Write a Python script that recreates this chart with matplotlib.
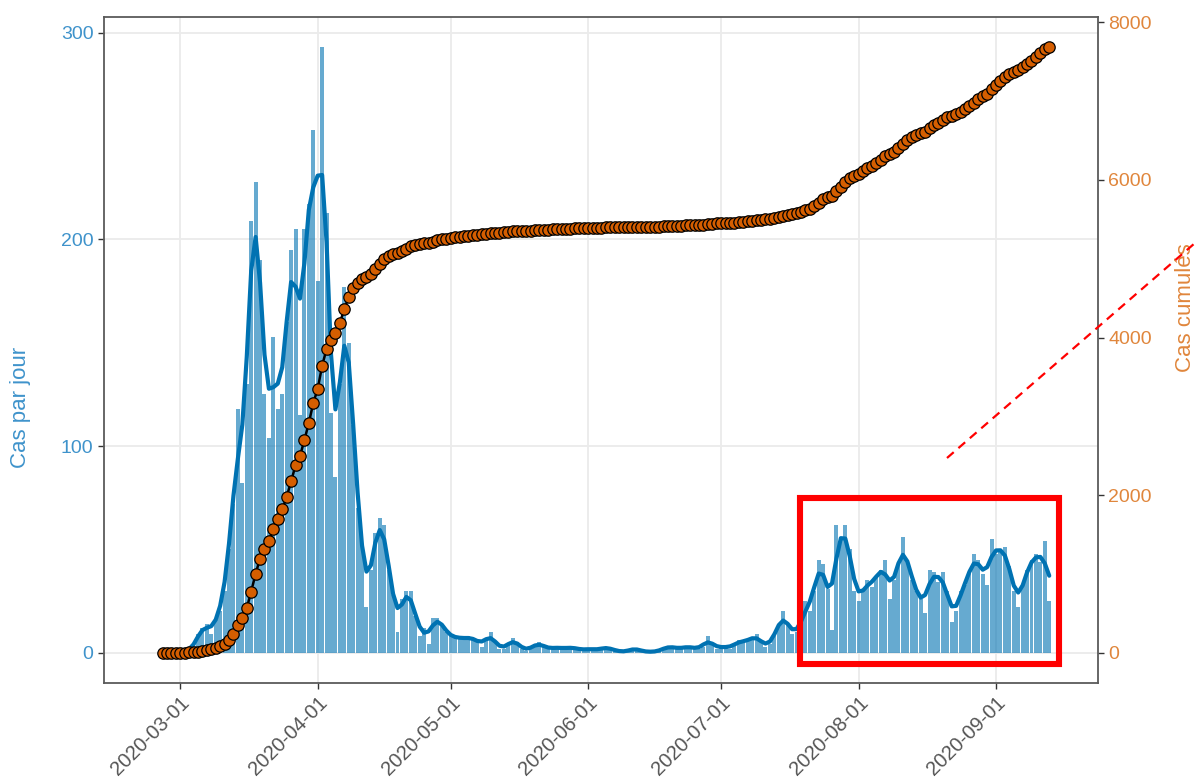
import numpy as np
import pandas as pd
import matplotlib
matplotlib.use("Agg")
import matplotlib.pyplot as plt
from matplotlib.patches import Rectangle
from matplotlib.lines import Line2D

# ---------------- data ----------------
start_date = "2020-02-26"
feb = [0, 0, 0, 0]
mar = [1, 1, 1, 2, 9, 12, 14, 9, 16, 20, 30, 50, 72,
       118, 82, 130, 209, 228, 190, 125, 104,
       153, 118, 125, 160, 195, 205, 115, 205, 217, 253]
apr = [180, 293, 213, 116, 85, 130, 177, 150, 110, 70,
       52, 22, 40, 58, 65, 62,
       40, 28, 10, 26, 30, 30, 18, 8, 12, 4, 17, 17, 14, 10]
may = [8, 7, 8, 6, 8, 7, 6, 3, 7, 10, 5, 2, 2, 4, 7, 5, 2, 1, 2, 4, 5,
       3, 2, 2, 3, 2, 2, 3, 2, 2, 1]
jun = [2, 2, 1, 2, 3, 2, 1, 1, 0, 1, 2, 2, 1, 0, 1, 0, 1, 2, 3, 3, 2,
       2, 3, 3, 2, 2, 3, 8, 4, 2]
jul = [3, 3, 2, 4, 6, 5, 6, 7, 9, 5, 3, 4, 8, 14, 20, 14, 9, 10, 12, 25,
       20, 30, 45, 43, 31, 11, 62, 55, 62, 50, 30]
aug = [25, 30, 35, 32, 37, 40, 45, 26, 35, 43, 56, 45, 35, 30, 26, 19,
       40, 39, 34, 39, 30, 15, 20, 30, 33, 38, 48, 45, 38, 33, 55]
sep = [48, 50, 51, 42, 30, 22, 33, 40, 45, 48, 44, 54, 25]

x_tick_labels = ["2020-03-01", "2020-04-01", "2020-05-01", "2020-06-01",
                 "2020-07-01", "2020-08-01", "2020-09-01"]
left_ticks = [0, 100, 200, 300]
right_ticks = [0, 2000, 4000, 6000, 8000]
left_title = "Cas par jour"
right_title = "Cas cumulés"

# ---------------- derived series ----------------
daily = np.array(feb + mar + apr + may + jun + jul + aug + sep, dtype=float)
dates = pd.date_range(start_date, periods=len(daily), freq="D")
cumul = np.cumsum(daily)
kernel = np.array([1, 4, 6, 4, 1], dtype=float)
smooth = (np.convolve(daily, kernel, mode="same") /
          np.convolve(np.ones_like(daily), kernel, mode="same"))

# ---------------- styling ----------------
plt.rcParams["font.family"] = ["Liberation Sans", "DejaVu Sans"]
BLUE = "#0072B2"
LEFT_TXT = "#3f93cb"
RIGHT_TXT = "#e0863c"
DOT = "#D55E00"
GRID = "#ebebeb"
BORDER = "#5a5a5a"

W, H = 1195, 784
fig = plt.figure(figsize=(W / 100, H / 100), dpi=100)
fig.patch.set_facecolor("white")
px0, px1, py0, py1 = 104, 1098, 17, 683
ax = fig.add_axes([px0 / W, 1 - py1 / H, (px1 - px0) / W, (py1 - py0) / H])

ax.bar(dates, daily, width=0.9, color=BLUE, alpha=0.6, linewidth=0, zorder=2)
ax.plot(dates, smooth, color=BLUE, lw=3.0, zorder=3,
        solid_joinstyle="round", solid_capstyle="round")

ymax = daily.max()
ax.set_ylim(-0.05 * ymax, 1.05 * ymax)
ax.set_yticks(left_ticks)
ax.set_yticklabels([str(t) for t in left_ticks])

base = pd.Timestamp("2020-03-01")
ax.set_xlim(base - pd.Timedelta(days=17.2), base + pd.Timedelta(days=207.0))
tick_dates = pd.to_datetime(x_tick_labels)
ax.set_xticks(tick_dates)
ax.set_xticklabels(x_tick_labels, rotation=45, ha="right",
                   rotation_mode="anchor")

ax.set_axisbelow(True)
ax.grid(True, color=GRID, lw=1.3, zorder=0)
ax.tick_params(axis="x", colors="#333333", labelcolor="#555555",
               labelsize=14.5, length=4.5, width=1, pad=3)
ax.tick_params(axis="y", colors="#333333", labelcolor=LEFT_TXT,
               labelsize=14, length=4.5, width=1, pad=3)
ax.set_ylabel(left_title, color=LEFT_TXT, fontsize=16)
ax.yaxis.set_label_coords((31 - px0) / (px1 - px0), (py1 - 407) / (py1 - py0))
for s in ax.spines.values():
    s.set_visible(False)

ax2 = ax.twinx()
k = cumul.max() / ymax
lo, hi = ax.get_ylim()
ax2.set_ylim(lo * k, hi * k)
ax2.plot(dates, cumul, color="black", lw=1.8, zorder=4)
ax2.plot(dates, cumul, "o", ms=8.2, mfc=DOT, mec="black", mew=0.9, zorder=5)
ax2.set_yticks(right_ticks)
ax2.set_yticklabels([str(t) for t in right_ticks])
ax2.tick_params(axis="y", colors="#333333", labelcolor=RIGHT_TXT,
                labelsize=14, length=4.5, width=1, pad=3)
ax2.set_ylabel(right_title, color=RIGHT_TXT, fontsize=16)
ax2.yaxis.set_label_coords((1175 - px0) / (px1 - px0), (py1 - 308) / (py1 - py0))
for s in ax2.spines.values():
    s.set_color(BORDER)
    s.set_linewidth(1.3)

# ---------------- red annotations (figure pixel positions) ----------------
fig.add_artist(Rectangle((800 / W, 1 - 664 / H), 259 / W, 166 / H,
                         transform=fig.transFigure, fill=False,
                         edgecolor="#ff0000", lw=4.4, zorder=10))
fig.add_artist(Line2D([947 / W, 1195 / W], [1 - 458 / H, 1 - 243 / H],
                      transform=fig.transFigure, color="#ff0000", lw=1.6,
                      linestyle=(0, (4, 2.8)), zorder=10))

fig.savefig("out.png", dpi=100)
